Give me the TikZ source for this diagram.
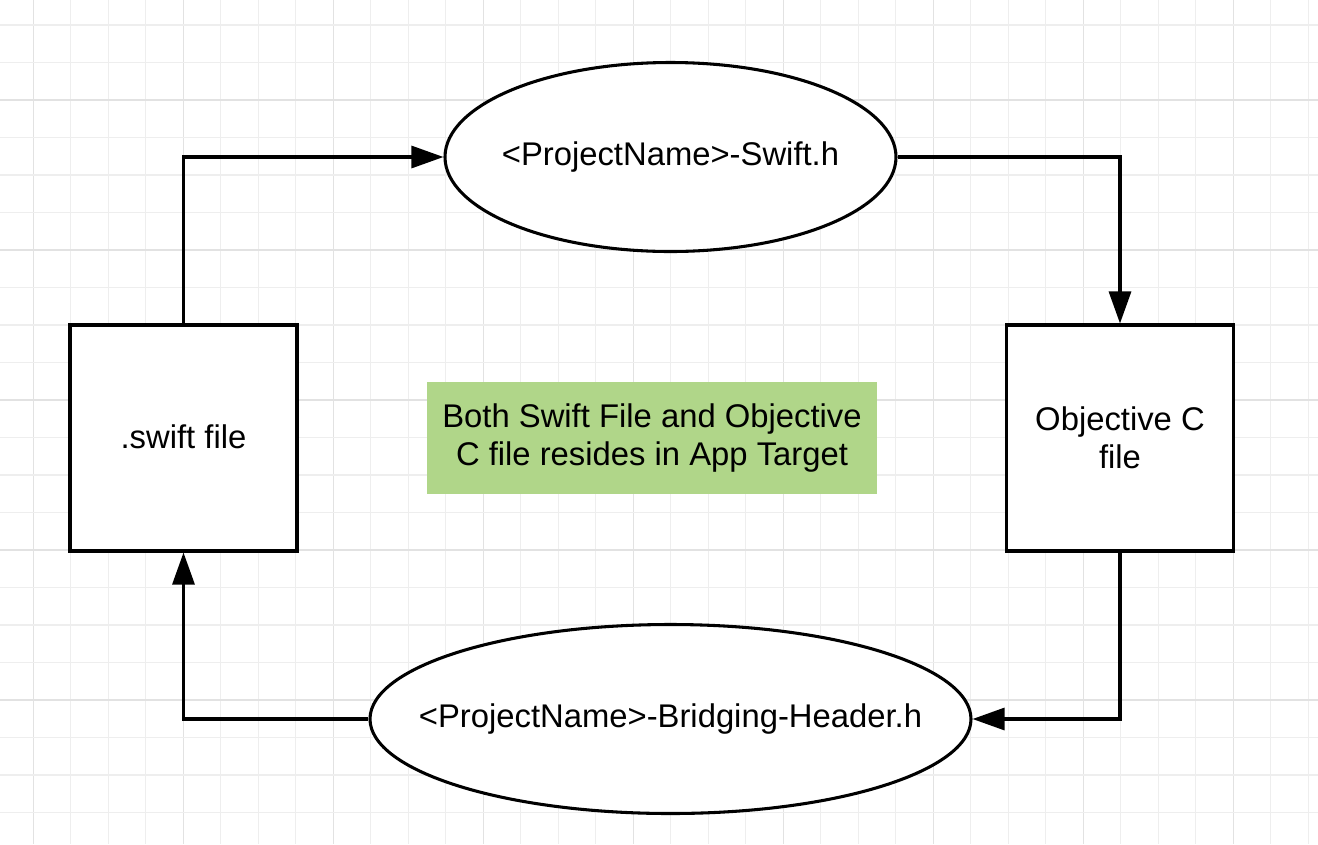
\documentclass[tikz,border=0pt]{standalone}
\usepackage{fontspec}
\setmainfont{Liberation Sans}
\usetikzlibrary{shapes.geometric,arrows.meta}
\definecolor{gridminor}{RGB}{238,238,238}
\definecolor{gridmajor}{RGB}{226,226,226}
\definecolor{notegreen}{RGB}{176,214,137}
\tikzset{
  boxnode/.style={draw=black,line width=2.3pt,fill=white,minimum width=170.25pt,minimum height=169.5pt,inner sep=0pt,align=center},
  ellnode/.style={ellipse,draw=black,line width=2.3pt,fill=white,minimum height=141.75pt,inner sep=0pt},
  notenode/.style={fill=notegreen,minimum width=337.5pt,minimum height=84pt,inner sep=0pt,align=center},
  conn/.style={draw=black,line width=2.3pt,-{Triangle[length=24pt,width=16.5pt]}},
  gridmin/.style={draw=gridminor,line width=0.9pt},
  gridmaj/.style={draw=gridmajor,line width=0.9pt}
}
\begin{document}
\begin{tikzpicture}[x=0.75pt,y=-0.75pt,font=\fontsize{24.6pt}{28.5pt}\selectfont]
\useasboundingbox (0,0) rectangle (1318,844);
\fill[white] (0,0) rectangle (1318,844);
% grid
\foreach \i in {0,...,34}{
  \pgfmathtruncatemacro{\m}{mod(\i,4)}
  \ifnum\m=0
    \draw[gridmaj] ({33.3+37.5*\i},0) -- ({33.3+37.5*\i},844);
  \else
    \draw[gridmin] ({33.3+37.5*\i},0) -- ({33.3+37.5*\i},844);
  \fi
}
\foreach \j in {0,...,21}{
  \pgfmathtruncatemacro{\m}{mod(\j+2,4)}
  \ifnum\m=0
    \draw[gridmaj] (0,{25+37.5*\j}) -- (1318,{25+37.5*\j});
  \else
    \draw[gridmin] (0,{25+37.5*\j}) -- (1318,{25+37.5*\j});
  \fi
}
% nodes
\node[boxnode] (sw) at (183.5,438) {\raisebox{2pt}{.swift file}};
\node[boxnode] (oc) at (1120,438) {Objective C\\file};
\node[ellnode,minimum width=338.25pt] (top) at (670.5,157) {\makebox[0pt]{<ProjectName>-Swift.h}};
\node[ellnode,minimum width=450.75pt] (bot) at (670.5,719) {\makebox[0pt]{<ProjectName>-Bridging-Header.h}};
\node[notenode] (note) at (652,438) {Both Swift File and Objective\\C file resides in App Target};
% connectors
\draw[conn] (sw.north) |- (top.west);
\draw[conn] (top.east) -| (oc.north);
\draw[conn] (oc.south) |- (bot.east);
\draw[conn] (bot.west) -| (sw.south);
\end{tikzpicture}
\end{document}
